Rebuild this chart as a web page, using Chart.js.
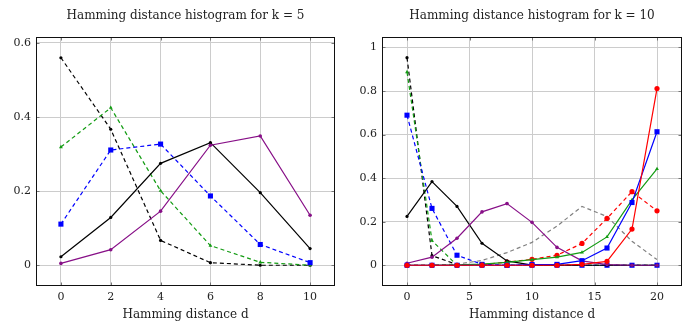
<!DOCTYPE html>
<html>
<head>
<meta charset="utf-8">
<script src="https://cdn.jsdelivr.net/npm/chart.js@4/dist/chart.umd.min.js"></script>
<style>
  html, body { margin: 0; padding: 0; background: #fff; }
  #wrapL { position: absolute; left: 0; top: 0; width: 343px; height: 325px; }
  #wrapR { position: absolute; left: 343px; top: 0; width: 343px; height: 325px; }
</style>
</head>
<body>
<div id="wrapL"><canvas id="cL" width="343" height="325"></canvas></div>
<div id="wrapR"><canvas id="cR" width="343" height="325"></canvas></div>
<script>
// ---------- data: k = 5 ----------
const titleL = 'Hamming distance histogram for k = 5';
const dL = [0, 2, 4, 6, 8, 10];
const xTicksL = [0, 2, 4, 6, 8, 10];
const yTicksL = [0, 0.2, 0.4, 0.6];
const L_blackDashed = [0.560, 0.367, 0.067, 0.007, 0.000, 0.000];
const L_greenDashed = [0.319, 0.425, 0.201, 0.053, 0.008, 0.000];
const L_blueDashed  = [0.111, 0.311, 0.327, 0.187, 0.056, 0.007];
const L_blackSolid  = [0.023, 0.129, 0.275, 0.331, 0.196, 0.045];
const L_purpleSolid = [0.005, 0.042, 0.146, 0.324, 0.349, 0.135];

// ---------- data: k = 10 ----------
const titleR = 'Hamming distance histogram for k = 10';
const dR = [0, 2, 4, 6, 8, 10, 12, 14, 16, 18, 20];
const xTicksR = [0, 5, 10, 15, 20];
const yTicksR = [0, 0.2, 0.4, 0.6, 0.8, 1];
const R_blackDashed = [0.953, 0.044, 0.003, 0, 0, 0, 0, 0, 0, 0, 0];
const R_greenDashed = [0.887, 0.113, 0.000, 0, 0, 0, 0, 0, 0, 0, 0];
const R_blueDashed  = [0.689, 0.261, 0.046, 0.004, 0, 0, 0, 0, 0, 0, 0];
const R_greyDashed  = [0.000, 0.001, 0.005, 0.022, 0.058, 0.105, 0.180, 0.270, 0.224, 0.110, 0.026];
const R_redDashed   = [0.000, 0.000, 0.000, 0.002, 0.015, 0.027, 0.046, 0.100, 0.215, 0.338, 0.250];
const R_blackSolid  = [0.224, 0.384, 0.270, 0.101, 0.020, 0.001, 0, 0, 0, 0, 0];
const R_purpleSolid = [0.009, 0.037, 0.124, 0.245, 0.283, 0.197, 0.082, 0.020, 0.003, 0, 0];
const R_greenSolid  = [0.000, 0.000, 0.002, 0.005, 0.013, 0.026, 0.037, 0.059, 0.130, 0.300, 0.442];
const R_blueSolid   = [0.000, 0.000, 0.000, 0.000, 0.000, 0.003, 0.004, 0.021, 0.079, 0.288, 0.613];
const R_redSolid    = [0.000, 0.000, 0.000, 0.000, 0.000, 0.000, 0.000, 0.004, 0.018, 0.166, 0.811];

const xLabel = 'Hamming distance d';

// ---------- styles ----------
const C = {
  black: '#000000', green: '#139c13', blue: '#0000ff',
  purple: '#870f87', red: '#ff0000', grey: '#808080'
};
const SERIF = "'DejaVu Serif', 'Liberation Serif', serif";

function series(xs, ys, color, dashed, marker, radius) {
  return {
    data: xs.map((x, i) => ({ x: x, y: ys[i] })),
    borderColor: color,
    backgroundColor: color,
    borderWidth: 1.2,
    borderDash: dashed ? [4, 3] : [],
    pointStyle: marker || 'circle',
    pointRadius: marker ? radius : 0,
    pointHoverRadius: marker ? radius : 0,
    pointBackgroundColor: color,
    pointBorderColor: color,
    pointBorderWidth: 0,
    tension: 0,
    fill: false
  };
}

// frame around the plot area plus small inward tick marks (pgfplots style)
const framePlugin = {
  id: 'frame',
  afterDatasetsDraw(chart) {
    const a = chart.chartArea, ctx = chart.ctx;
    const L = Math.round(a.left) + 0.5, R = Math.round(a.right) - 0.5;
    const T = Math.round(a.top) + 0.5, B = Math.round(a.bottom) - 0.5;
    ctx.save();
    ctx.strokeStyle = '#777';
    ctx.lineWidth = 1;
    ctx.beginPath();
    chart.scales.x.ticks.forEach(t => {
      const px = Math.round(chart.scales.x.getPixelForValue(t.value)) + 0.5;
      ctx.moveTo(px, B); ctx.lineTo(px, B - 3);
      ctx.moveTo(px, T); ctx.lineTo(px, T + 3);
    });
    chart.scales.y.ticks.forEach(t => {
      const py = Math.round(chart.scales.y.getPixelForValue(t.value)) + 0.5;
      ctx.moveTo(L, py); ctx.lineTo(L + 3, py);
      ctx.moveTo(R, py); ctx.lineTo(R - 3, py);
    });
    ctx.stroke();
    ctx.strokeStyle = '#111';
    ctx.strokeRect(L, T, R - L, B - T);
    ctx.restore();
  }
};

function tickFilter(list) {
  return (s) => {
    const keep = s.ticks.filter(t => list.some(v => Math.abs(v - t.value) < 1e-9));
    s.ticks = keep.length ? keep : list.map(v => ({ value: v }));
  };
}

const fmt = v => String(+Number(v).toFixed(6));

function makeChart(id, title, datasets, xr, yr, xTicks, yTicks, yWidth, padRight) {
  return new Chart(document.getElementById(id), {
    type: 'line',
    data: { datasets: datasets },
    plugins: [framePlugin],
    options: {
      responsive: false,
      animation: false,
      events: [],
      layout: { padding: { left: 0, right: padRight, top: 0, bottom: 0 } },
      plugins: {
        legend: { display: false },
        tooltip: { enabled: false },
        title: {
          display: true, text: title, fullSize: false,
          color: '#222', font: { family: SERIF, size: 12, weight: 'normal' },
          padding: { top: 9, bottom: 13.6 }
        }
      },
      scales: {
        x: {
          type: 'linear', min: xr[0], max: xr[1],
          afterBuildTicks: tickFilter(xTicks),
          afterFit: s => { s.height = 39; },
          grid: { color: '#cccccc', lineWidth: 1, drawTicks: false },
          border: { display: false },
          ticks: { color: '#222', padding: 5, font: { family: SERIF, size: 11 },
                   maxRotation: 0, autoSkip: false, callback: fmt,
                   stepSize: xTicks[1] - xTicks[0], includeBounds: false },
          title: { display: true, text: xLabel, color: '#222',
                   font: { family: SERIF, size: 12 }, padding: { top: 0, bottom: 3 } }
        },
        y: {
          type: 'linear', min: yr[0], max: yr[1],
          afterBuildTicks: tickFilter(yTicks),
          afterFit: s => { s.width = yWidth; },
          grid: { color: '#cccccc', lineWidth: 1, drawTicks: false },
          border: { display: false },
          ticks: { color: '#222', padding: 5, font: { family: SERIF, size: 11 },
                   autoSkip: false, callback: fmt,
                   stepSize: yTicks[1] - yTicks[0], includeBounds: false }
        }
      }
    }
  });
}

// left chart (first dataset drawn on top)
makeChart('cL', titleL, [
  series(dL, L_purpleSolid, C.purple, false, 'circle', 1.8),
  series(dL, L_blackSolid, C.black, false, 'circle', 1.6),
  series(dL, L_blueDashed, C.blue, true, 'rect', 3.6),
  series(dL, L_greenDashed, C.green, true, 'triangle', 2.2),
  series(dL, L_blackDashed, C.black, true, 'circle', 1.6)
], [-1, 11], [-0.056, 0.616], xTicksL, yTicksL, 36, 8);

// right chart
makeChart('cR', titleR, [
  series(dR, R_redSolid, C.red, false, 'circle', 2.6),
  series(dR, R_blueSolid, C.blue, false, 'rect', 3.6),
  series(dR, R_greenSolid, C.green, false, 'triangle', 2.2),
  series(dR, R_purpleSolid, C.purple, false, 'circle', 1.8),
  series(dR, R_blackSolid, C.black, false, 'circle', 1.6),
  series(dR, R_redDashed, C.red, true, 'circle', 2.6),
  series(dR, R_greyDashed, C.grey, true, null, 0),
  series(dR, R_blueDashed, C.blue, true, 'rect', 3.6),
  series(dR, R_greenDashed, C.green, true, 'triangle', 2.2),
  series(dR, R_blackDashed, C.black, true, 'circle', 1.6)
], [-2, 22], [-0.0953, 1.048], xTicksR, yTicksR, 39, 4);
</script>
</body>
</html>
